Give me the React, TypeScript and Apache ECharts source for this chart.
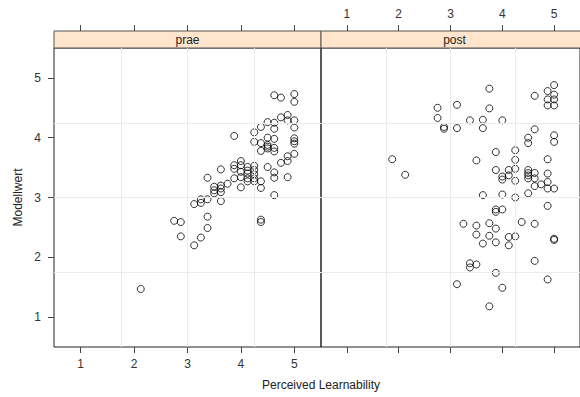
import React, { useEffect, useRef } from "react";
import * as echarts from "echarts";

const panels = ["prae", "post"];
const tickValues = [1, 2, 3, 4, 5];
const gridValues = [1.75, 3, 4.25];

const praeX = [4.625, 4.75, 5, 5, 4.875, 4.875, 5, 4.75, 5, 4.5, 4.625, 4.625, 4.375, 4.25, 3.875, 4.25, 4.375, 4.5, 4.625, 4.5, 4.5, 4.5, 4.375, 4.625, 4.625, 5, 5, 5, 5, 4.875, 4.875, 4.75, 4.5, 4.625, 4.625, 4.875, 4.0, 4.0, 3.875, 3.875, 3.625, 4.125, 4.125, 4.125, 4.125, 4.125, 4.25, 4.25, 4.25, 4.25, 4.25, 4.0, 4.0, 4.0, 4.375, 4.375, 3.875, 3.75, 3.375, 3.5, 3.5, 3.5, 3.625, 3.625, 3.625, 3.625, 4.625, 3.25, 3.375, 3.25, 3.125, 2.75, 2.875, 3.375, 3.375, 4.375, 4.375, 2.875, 3.25, 3.125, 2.125];
const praeY = [4.71, 4.67, 4.73, 4.6, 4.38, 4.29, 4.29, 4.34, 4.17, 4.26, 4.25, 4.15, 4.18, 4.09, 4.03, 3.93, 3.91, 4.0, 3.98, 3.88, 3.85, 3.82, 3.78, 3.83, 3.77, 3.99, 3.94, 3.9, 3.73, 3.69, 3.61, 3.58, 3.51, 3.42, 3.33, 3.34, 3.61, 3.54, 3.54, 3.48, 3.47, 3.51, 3.45, 3.4, 3.32, 3.27, 3.53, 3.46, 3.39, 3.32, 3.27, 3.43, 3.34, 3.17, 3.27, 3.16, 3.32, 3.23, 3.33, 3.18, 3.12, 3.07, 3.2, 3.15, 3.09, 2.94, 3.04, 2.97, 2.97, 2.91, 2.89, 2.61, 2.59, 2.68, 2.49, 2.63, 2.59, 2.35, 2.33, 2.2, 1.47];

const postX = [3.75, 2.75, 3.125, 3.75, 2.75, 2.875, 2.875, 3.125, 3.375, 3.625, 3.625, 4.0, 5, 4.875, 4.625, 5, 5, 5, 4.875, 4.875, 4.625, 4.5, 4.5, 5, 5, 1.875, 2.125, 3.5, 3.875, 4.25, 4.25, 4.875, 3.875, 4.125, 4.25, 4.0, 4.0, 4.125, 4.25, 4.5, 4.5, 4.5, 4.5, 4.625, 4.625, 4.625, 4.75, 4.875, 4.875, 4.875, 5, 3.625, 4.0, 4.25, 4.5, 4.875, 3.875, 3.875, 4.0, 3.25, 3.5, 3.75, 3.875, 4.375, 4.625, 3.5, 3.75, 3.625, 3.875, 4.125, 4.25, 4.125, 5, 5, 4.625, 3.375, 3.375, 3.5, 3.875, 4.875, 3.125, 4.0, 3.75];
const postY = [4.82, 4.5, 4.55, 4.49, 4.33, 4.18, 4.15, 4.16, 4.29, 4.3, 4.16, 4.29, 4.88, 4.78, 4.7, 4.72, 4.64, 4.54, 4.64, 4.54, 4.14, 4.0, 3.91, 4.04, 3.93, 3.64, 3.38, 3.62, 3.76, 3.79, 3.63, 3.64, 3.46, 3.46, 3.48, 3.35, 3.3, 3.37, 3.28, 3.46, 3.41, 3.37, 3.32, 3.41, 3.32, 3.19, 3.22, 3.4, 3.26, 3.15, 3.15, 3.04, 3.05, 3.0, 3.07, 2.86, 2.8, 2.76, 2.8, 2.56, 2.53, 2.57, 2.48, 2.59, 2.56, 2.38, 2.36, 2.23, 2.25, 2.34, 2.35, 2.2, 2.31, 2.29, 1.94, 1.9, 1.83, 1.88, 1.74, 1.63, 1.55, 1.49, 1.18];

const FONT = "Liberation Sans, Arial, Helvetica, sans-serif";
const PANEL_LEFT = 54;
const PANEL_W = 267;
const PANEL_TOP = 48;
const PANEL_H = 299;
const STRIP_H = 17;

export default function App() {
  const ref = useRef<HTMLDivElement>(null);

  useEffect(() => {
    if (!ref.current) return;
    const chart = echarts.init(ref.current, undefined, { renderer: "svg" });
    const seriesData = [
      praeX.map((x, i) => [x, praeY[i]]),
      postX.map((x, i) => [x, postY[i]]),
    ];

    const grids = panels.map((_, i) => ({
      left: PANEL_LEFT + i * PANEL_W,
      top: PANEL_TOP,
      width: PANEL_W,
      height: PANEL_H,
      show: true,
      borderColor: "#222",
      borderWidth: 1,
      backgroundColor: "transparent",
      containLabel: false,
    }));

    const tickStyle = { show: true, length: 6, inside: false, customValues: tickValues, lineStyle: { color: "#444", width: 1 } };
    const labelStyle = (show: boolean) => ({
      show,
      customValues: tickValues,
      margin: 11,
      fontSize: 12,
      color: "#333",
      fontFamily: FONT,
    });

    const xAxes: any[] = [];
    panels.forEach((_, i) => {
      xAxes.push({
        type: "value",
        gridIndex: i,
        position: "bottom",
        min: 0.5,
        max: 5.5,
        axisLine: { show: false, onZero: false },
        axisTick: tickStyle,
        axisLabel: labelStyle(i === 0),
        splitLine: { show: false },
      });
      xAxes.push({
        type: "value",
        gridIndex: i,
        position: "top",
        offset: STRIP_H,
        min: 0.5,
        max: 5.5,
        axisLine: { show: false, onZero: false },
        axisTick: tickStyle,
        axisLabel: labelStyle(i === 1),
        splitLine: { show: false },
      });
    });

    const yAxes: any[] = panels.map((_, i) => ({
      type: "value",
      gridIndex: i,
      position: "left",
      min: 0.5,
      max: 5.5,
      name: i === 0 ? "Modellwert" : "",
      nameLocation: "middle",
      nameGap: 30,
      nameTextStyle: { fontSize: 12, color: "#222", fontFamily: FONT },
      axisLine: { show: false, onZero: false },
      axisTick: { ...tickStyle, show: i === 0 },
      axisLabel: { ...labelStyle(i === 0), margin: 13 },
      splitLine: { show: false },
    }));

    const series: any[] = [];
    panels.forEach((_, i) => {
      series.push({
        type: "scatter",
        xAxisIndex: i * 2,
        yAxisIndex: i,
        data: [],
        z: 1,
        silent: true,
        markLine: {
          silent: true,
          symbol: "none",
          label: { show: false },
          lineStyle: { color: "#ebebeb", width: 1, type: "solid" },
          data: [
            ...gridValues.map((v) => ({ xAxis: v })),
            ...gridValues.map((v) => ({ yAxis: v })),
          ],
        },
      });
      series.push({
        type: "scatter",
        name: panels[i],
        xAxisIndex: i * 2,
        yAxisIndex: i,
        data: seriesData[i],
        symbol: "circle",
        symbolSize: 7,
        z: 3,
        itemStyle: { color: "rgba(0,0,0,0)", borderColor: "#000", borderWidth: 1 },
      });
    });

    const graphics: any[] = [];
    panels.forEach((p, i) => {
      graphics.push({
        type: "rect",
        shape: { x: PANEL_LEFT + i * PANEL_W, y: PANEL_TOP - STRIP_H, width: PANEL_W, height: STRIP_H },
        style: { fill: "#ffe5cc", stroke: "#555", lineWidth: 1 },
        z: 0,
      });
      graphics.push({
        type: "text",
        x: PANEL_LEFT + i * PANEL_W + PANEL_W / 2,
        y: PANEL_TOP - STRIP_H / 2,
        style: { text: p, fill: "#222", fontSize: 12, fontFamily: FONT, align: "center", verticalAlign: "middle" },
        z: 1,
      });
    });
    graphics.push({
      type: "text",
      x: PANEL_LEFT + PANEL_W,
      y: 385,
      style: { text: "Perceived Learnability", fill: "#222", fontSize: 12, fontFamily: FONT, align: "center", verticalAlign: "middle" },
    });

    chart.setOption({
      animation: false,
      backgroundColor: "#fff",
      textStyle: { fontFamily: FONT },
      grid: grids,
      xAxis: xAxes,
      yAxis: yAxes,
      series,
      graphic: graphics,
    });
    return () => chart.dispose();
  }, []);

  return (
    <div
      ref={ref}
      style={{ position: "fixed", left: 0, top: 0, width: 580, height: 397, overflow: "hidden" }}
    />
  );
}
